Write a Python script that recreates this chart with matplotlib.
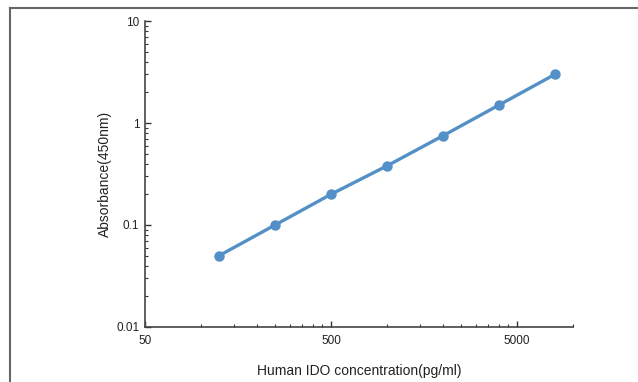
import numpy as np
import matplotlib
matplotlib.use("Agg")
from matplotlib import pyplot as plt
from matplotlib.ticker import FixedLocator, NullFormatter
from matplotlib.lines import Line2D

# dados
conc = [125, 250, 500, 1000, 2000, 4000, 8000]
absorb = [0.05, 0.1, 0.2, 0.38, 0.75, 1.5, 3.0]

x_ticks = [50, 500, 5000]
x_labels = ["50", "500", "5000"]
y_ticks = [0.01, 0.1, 1, 10]
y_labels = ["0.01", "0.1", "1", "10"]

plt.rcParams['font.family'] = ['Liberation Sans', 'DejaVu Sans']

fig = plt.figure(figsize=(6.38, 3.82), dpi=100)
ax = fig.add_axes([0.2273, 0.1440, 0.6708, 0.8010])

ax.plot(conc, absorb, color="#5390c8", lw=2.4, marker="o", ms=6.5,
        solid_capstyle="round")

ax.set_xscale("log")
ax.set_yscale("log")
ax.set_xlim(50, 10000)
ax.set_ylim(0.01, 10)

ax.xaxis.set_major_locator(FixedLocator(x_ticks))
ax.set_xticklabels(x_labels)
minx = list(np.arange(100, 500, 50)) + list(np.arange(1000, 5000, 500)) + [10000]
ax.xaxis.set_minor_locator(FixedLocator(minx))
ax.xaxis.set_minor_formatter(NullFormatter())

ax.yaxis.set_major_locator(FixedLocator(y_ticks))
ax.set_yticklabels(y_labels)

for s in ["top", "right"]:
    ax.spines[s].set_visible(False)
for s in ["left", "bottom"]:
    ax.spines[s].set_color("#444444")
    ax.spines[s].set_linewidth(1.2)

ax.tick_params(which="both", direction="in", color="#333333", labelsize=8.5,
               labelcolor="#222222")
ax.tick_params(which="major", length=4, width=1)
ax.tick_params(axis="x", which="major", pad=6)
ax.tick_params(axis="y", which="major", pad=4)
ax.tick_params(which="minor", length=2.5, width=0.8)

ax.set_xlabel("Human IDO concentration(pg/ml)", fontsize=10, labelpad=12,
              color="#222222")
ax.set_ylabel("Absorbance(450nm)", fontsize=10, labelpad=3, color="#222222")

# moldura externa
fig.add_artist(Line2D([10/638, 10/638], [0, 1 - 8/382], color="#666666", lw=1.5,
                      transform=fig.transFigure))
fig.add_artist(Line2D([10/638, 1], [1 - 8/382, 1 - 8/382], color="#666666", lw=1.5,
                      transform=fig.transFigure))

fig.savefig("out.png", dpi=100)
